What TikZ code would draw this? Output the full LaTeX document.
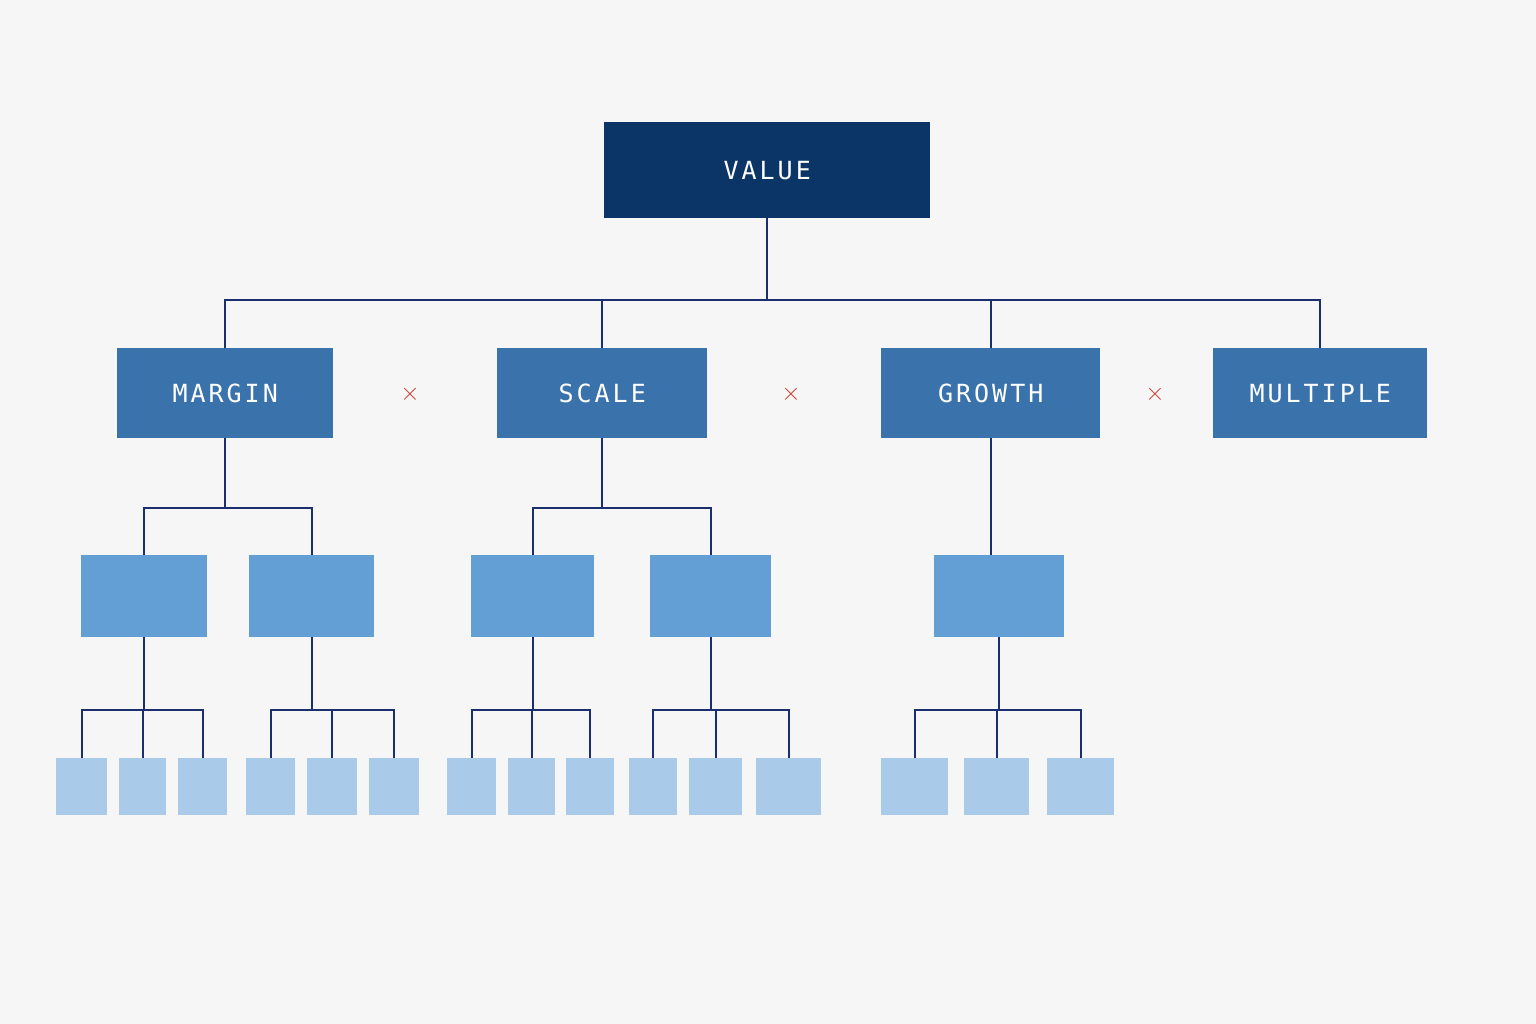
\documentclass[tikz,border=0pt]{standalone}
\usepackage{fontspec}
\setmonofont{DejaVu Sans Mono}[LetterSpace=12]
\begin{document}
\begin{tikzpicture}[x=1pt,y=-1pt,
  lab/.style={text=white,font=\ttfamily\fontsize{25}{25}\selectfont},
  box/.style={draw=none,inner sep=0pt,anchor=north west},
  link/.style={draw=linec,line width=2pt},
  xm/.style={text=xred,font=\fontsize{40}{40}\selectfont}]
\definecolor{bg}{HTML}{F6F6F6}
\definecolor{navy}{HTML}{0B3566}
\definecolor{mid}{HTML}{3A72AC}
\definecolor{lt}{HTML}{639FD4}
\definecolor{pale}{HTML}{A9CBE9}
\definecolor{linec}{HTML}{1B2F6E}
\definecolor{xred}{HTML}{C8402F}
\fill[bg] (0,0) rectangle (1536,1024);
\useasboundingbox (0,0) rectangle (1536,1024);
\newcommand{\bx}[6]{\node[box,fill=#6,minimum width={#3-#2},minimum height={#5-#4}] (#1) at (#2,#4) {};}
\bx{v}{604}{930}{122}{218}{navy}
\node[lab] at (v.center) {VALUE};
\bx{m}{117}{333}{348}{438}{mid}\node[lab] at (m.center) {MARGIN};
\bx{s}{497}{707}{348}{438}{mid}\node[lab] at (s.center) {SCALE};
\bx{g}{881}{1100}{348}{438}{mid}\node[lab] at (g.center) {GROWTH};
\bx{u}{1213}{1427}{348}{438}{mid}\node[lab] at (u.center) {MULTIPLE};
\node[xm] (x1) at (410,394) {$\times$};
\node[xm] (x2) at (791,394) {$\times$};
\node[xm] (x3) at (1155,394) {$\times$};
\coordinate (b1) at (0,300);
\coordinate (b2) at (0,508);
\coordinate (b3) at (0,710);
\draw[link] (v.south) -- (v.south |- b1);
\foreach \c in {m,s,g,u}{\draw[link] (v.south |- b1) -| (\c.north);}
\bx{m1}{81}{207}{555}{637}{lt}
\bx{m2}{249}{374}{555}{637}{lt}
\bx{s1}{471}{594}{555}{637}{lt}
\bx{s2}{650}{771}{555}{637}{lt}
\bx{g1}{934}{1064}{555}{637}{lt}
\foreach \p/\c in {m/m1,m/m2,s/s1,s/s2}{\draw[link] (\p.south) -- (\p.south |- b2) -| (\c.north);}
\draw[link] (g.south) -- (g.south |- g1.north);
\bx{a1}{56}{107}{758}{815}{pale}\bx{a2}{119}{166}{758}{815}{pale}\bx{a3}{178}{227}{758}{815}{pale}
\bx{b1l}{246}{295}{758}{815}{pale}\bx{b2l}{307}{357}{758}{815}{pale}\bx{b3l}{369}{419}{758}{815}{pale}
\bx{c1}{447}{496}{758}{815}{pale}\bx{c2}{508}{555}{758}{815}{pale}\bx{c3}{566}{614}{758}{815}{pale}
\bx{d1}{629}{677}{758}{815}{pale}\bx{d2}{689}{742}{758}{815}{pale}\bx{d3}{756}{821}{758}{815}{pale}
\bx{e1}{881}{948}{758}{815}{pale}\bx{e2}{964}{1029}{758}{815}{pale}\bx{e3}{1047}{1114}{758}{815}{pale}
\foreach \p/\c in {m1/a1,m1/a2,m1/a3,m2/b1l,m2/b2l,m2/b3l,s1/c1,s1/c2,s1/c3,s2/d1,s2/d2,s2/d3,g1/e1,g1/e2,g1/e3}{\draw[link] (\p.south) -- (\p.south |- b3) -| (\c.north);}
\end{tikzpicture}
\end{document}
